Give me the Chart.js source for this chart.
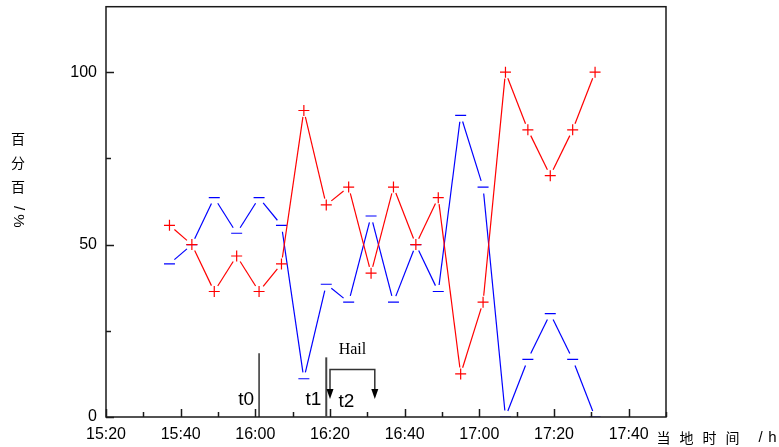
<!DOCTYPE html>
<html>
<head>
<meta charset="utf-8">
<script src="https://cdn.jsdelivr.net/npm/chart.js@4/dist/chart.umd.min.js"></script>
<style>
  html, body { margin: 0; padding: 0; background: #fff; }
  #c { display: block; }
</style>
</head>
<body>
<canvas id="c" width="779" height="447"></canvas>
<script>
// Time of each sample, minutes after 15:20
const sampleMinutes = [17, 23, 29, 35, 41, 47, 53, 59, 65, 71, 77, 83, 89, 95, 101, 107, 113, 119, 125, 131];
// "+" percentages (red)
const positivePct = [55.6, 50, 36.4, 46.7, 36.4, 44.4, 88.9, 61.5, 66.7, 41.7, 66.7, 50, 63.6, 12.5, 33.3, 100, 83.3, 70, 83.3, 100];
// "-" percentages (blue)
const negativePct = [44.4, 50, 63.6, 53.3, 63.6, 55.6, 11.1, 38.5, 33.3, 58.3, 33.3, 50, 36.4, 87.5, 66.7, 0, 16.7, 30, 16.7, 0];

// Axis settings
const xStartHour = 15, xStartMin = 20;   // 15:20 at x = 0
const xMax = 150;                        // 17:50
const xLabelStep = 20;                   // labelled every 20 minutes
const yMax = 119;
const yLabels = [0, 50, 100];

// Event markers (minutes after 15:20, y-values in %)
const eventNames = ['t0', 't1'];
const eventMinutes = [41, 59];
const eventTops = [18.5, 17.3];
// Hail bracket: start, end minutes; bracket level and arrow tip level (%)
const hailSpan = [60, 72];
const hailLevels = [13.8, 5.2];

const GAP = 6.5; // gap between connecting line and marker, px

function fmtTime(v) {
  const t = xStartHour * 60 + xStartMin + v;
  const h = Math.floor(t / 60), m = t % 60;
  return h + ':' + String(m).padStart(2, '0');
}

const redData = sampleMinutes.map((x, i) => ({ x, y: positivePct[i] }));
const blueData = sampleMinutes.map((x, i) => ({ x, y: negativePct[i] }));

const gapSegment = {
  borderDash: c => {
    const L = Math.hypot(c.p1.x - c.p0.x, c.p1.y - c.p0.y);
    return [Math.max(L - 2 * GAP, 0.01), L + 2 * GAP + c.p0DataIndex * 0.001];
  },
  borderDashOffset: () => -GAP
};

const decor = {
  id: 'decor',
  afterDraw(chart) {
    const ctx = chart.ctx;
    const xs = chart.scales.x, ys = chart.scales.y;
    const a = chart.chartArea;
    ctx.save();
    ctx.setLineDash([]);
    // frame
    ctx.strokeStyle = '#1a1a1a';
    ctx.lineWidth = 1.5;
    ctx.strokeRect(a.left, a.top, a.right - a.left, a.bottom - a.top);
    // inward ticks x
    for (let v = 0; v <= xMax; v += 10) {
      const px = Math.round(xs.getPixelForValue(v)) + 0.5;
      const len = (v % xLabelStep === 0) ? 8 : 5;
      ctx.beginPath();
      ctx.moveTo(px, a.bottom);
      ctx.lineTo(px, a.bottom - len);
      ctx.stroke();
    }
    // inward ticks y
    for (let v = 0; v <= yMax; v += 25) {
      const py = Math.round(ys.getPixelForValue(v)) + 0.5;
      const len = (v % 50 === 0) ? 8 : 5;
      ctx.beginPath();
      ctx.moveTo(a.left, py);
      ctx.lineTo(a.left + len, py);
      ctx.stroke();
    }
    // event lines
    const bottom = ys.getPixelForValue(0);
    eventMinutes.forEach((m, i) => {
      const px = xs.getPixelForValue(m);
      ctx.strokeStyle = i === 0 ? '#111' : '#444';
      ctx.lineWidth = i === 0 ? 1.3 : 2;
      ctx.beginPath();
      ctx.moveTo(px, ys.getPixelForValue(eventTops[i]));
      ctx.lineTo(px, bottom);
      ctx.stroke();
      ctx.fillStyle = '#000';
      ctx.font = '19px "Liberation Sans", Arial, sans-serif';
      ctx.textAlign = 'right';
      ctx.textBaseline = 'alphabetic';
      ctx.fillText(eventNames[i], px - 5, 405);
    });
    // hail bracket
    const hx0 = xs.getPixelForValue(hailSpan[0]);
    const hx1 = xs.getPixelForValue(hailSpan[1]);
    const hy = ys.getPixelForValue(hailLevels[0]);
    const tip = ys.getPixelForValue(hailLevels[1]);
    ctx.strokeStyle = '#333';
    ctx.lineWidth = 1.5;
    ctx.beginPath();
    ctx.moveTo(hx0, tip - 8);
    ctx.lineTo(hx0, hy);
    ctx.lineTo(hx1, hy);
    ctx.lineTo(hx1, tip - 8);
    ctx.stroke();
    ctx.fillStyle = '#000';
    [hx0, hx1].forEach(px => {
      ctx.beginPath();
      ctx.moveTo(px - 3.5, tip - 10);
      ctx.lineTo(px + 3.5, tip - 10);
      ctx.lineTo(px, tip);
      ctx.closePath();
      ctx.fill();
    });
    ctx.font = '19px "Liberation Sans", Arial, sans-serif';
    ctx.textAlign = 'center';
    ctx.fillText('t2', (hx0 + hx1) / 2 - 6, 407);
    ctx.font = '16px "Liberation Serif", "Times New Roman", serif';
    ctx.fillText('Hail', (hx0 + hx1) / 2, 354);

    // y title (vertical writing)
    ctx.fillStyle = '#000';
    ctx.font = '14px "Noto Sans CJK SC", sans-serif';
    ctx.textAlign = 'center';
    ctx.textBaseline = 'middle';
    ['百', '分', '百'].forEach((ch, i) => ctx.fillText(ch, 18, 138.5 + i * 24));
    ctx.font = '15px "Liberation Sans", Arial, sans-serif';
    [['/', 208], ['%', 221]].forEach(([ch, y]) => {
      ctx.save();
      ctx.translate(18, y);
      ctx.rotate(Math.PI / 2);
      ctx.fillText(ch, 0, 0);
      ctx.restore();
    });
    // x title
    ctx.font = '14px "Noto Sans CJK SC", sans-serif';
    ['当', '地', '时', '间'].forEach((ch, i) => ctx.fillText(ch, 663.5 + i * 23, 437.5));
    ctx.font = '15px "Liberation Sans", Arial, sans-serif';
    ctx.fillText('/', 760.5, 437.5);
    ctx.fillText('h', 772.5, 437.5);
    ctx.restore();
  }
};

new Chart(document.getElementById('c'), {
  type: 'scatter',
  data: {
    datasets: [
      {
        label: '+',
        data: redData,
        showLine: true,
        borderColor: '#ff0000',
        backgroundColor: '#ff0000',
        borderWidth: 1.2,
        pointStyle: 'cross',
        pointRadius: 5.5,
        pointHoverRadius: 5.5,
        pointBorderWidth: 1.2,
        tension: 0,
        segment: gapSegment
      },
      {
        label: '-',
        data: blueData,
        showLine: true,
        borderColor: '#0000ff',
        backgroundColor: '#0000ff',
        borderWidth: 1.2,
        pointStyle: 'line',
        pointRadius: 5.5,
        pointHoverRadius: 5.5,
        pointBorderWidth: 1.2,
        tension: 0,
        segment: gapSegment
      }
    ]
  },
  options: {
    responsive: false,
    animation: false,
    devicePixelRatio: 1,
    layout: { padding: { left: 0, right: 113, top: 6, bottom: 0 } },
    plugins: { legend: { display: false }, tooltip: { enabled: false } },
    scales: {
      x: {
        type: 'linear',
        min: 0,
        max: xMax,
        grid: { display: false, drawTicks: false },
        border: { display: false },
        afterFit: s => { s.height = 30; s.paddingLeft = 0; s.paddingRight = 0; },
        afterBuildTicks: s => {
          s.ticks = [];
          for (let v = 0; v <= xMax; v += xLabelStep) s.ticks.push({ value: v });
        },
        ticks: {
          autoSkip: false,
          maxRotation: 0,
          padding: 8,
          color: '#000',
          font: { family: '"Liberation Sans", Arial, sans-serif', size: 16 },
          callback: v => fmtTime(v)
        }
      },
      y: {
        min: 0,
        max: yMax,
        grid: { display: false, drawTicks: false },
        border: { display: false },
        afterFit: s => { s.width = 106; s.paddingTop = 0; s.paddingBottom = 0; },
        afterBuildTicks: s => { s.ticks = yLabels.map(v => ({ value: v })); },
        ticks: {
          padding: 9,
          color: '#000',
          font: { family: '"Liberation Sans", Arial, sans-serif', size: 16 },
          callback: v => String(v)
        }
      }
    }
  },
  plugins: [decor]
});
</script>
</body>
</html>
